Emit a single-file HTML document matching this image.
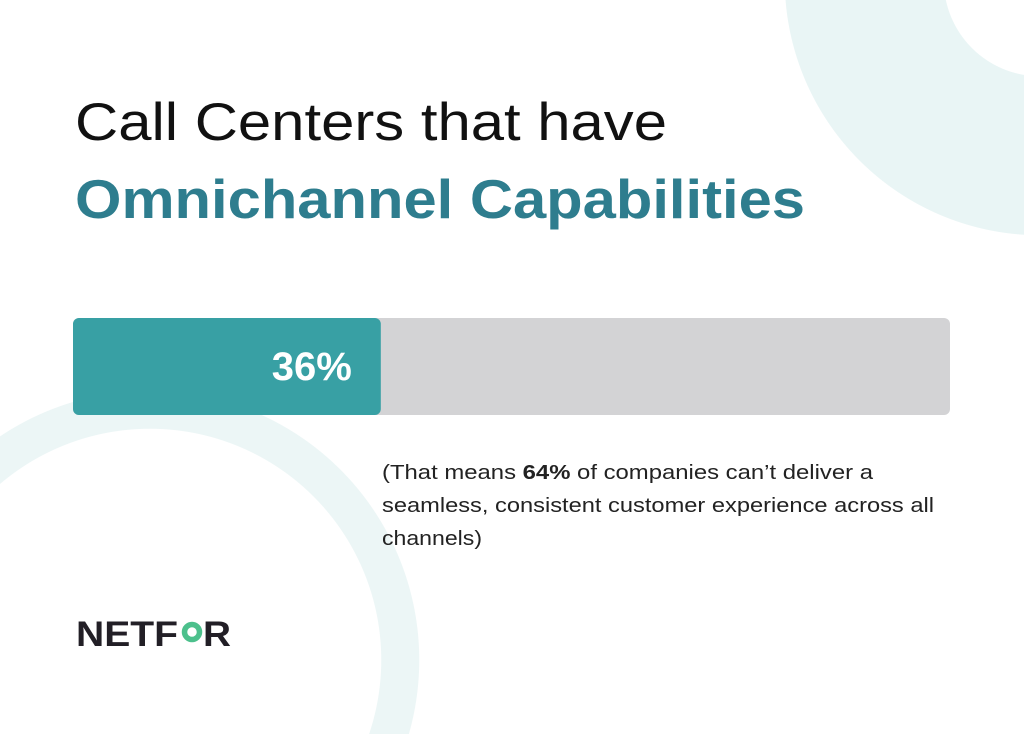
<!DOCTYPE html>
<html><head><meta charset="utf-8"><style>
html,body{margin:0;padding:0;width:1024px;height:734px;overflow:hidden;}
body{background:
  radial-gradient(circle at 1040px -20px, #ffffff 0 96px, #e9f5f5 96.5px 255px, rgba(255,255,255,0) 255.5px),
  radial-gradient(circle at 150px 660px, rgba(255,255,255,0) 0 231px, #ecf6f6 231.5px 269px, rgba(255,255,255,0) 269.5px),
  #ffffff;}
svg{display:block;font-family:"Liberation Sans",sans-serif;overflow:hidden;}
</style></head><body>
<svg id="chart" width="1024" height="734" viewBox="0 0 1024 734">
  <text x="75" y="140" font-size="53" fill="#111" textLength="592" lengthAdjust="spacingAndGlyphs">Call Centers that have</text>
  <text x="75" y="218" font-size="55" font-weight="bold" fill="#2e7d8e" textLength="730" lengthAdjust="spacingAndGlyphs">Omnichannel Capabilities</text>
  <g id="bars"></g>
  <g font-size="20.5" fill="#222">
    <text x="382" y="479" textLength="491" lengthAdjust="spacingAndGlyphs">(That means <tspan font-weight="bold">64%</tspan> of companies can’t deliver a</text>
    <text x="382" y="512" textLength="552" lengthAdjust="spacingAndGlyphs">seamless, consistent customer experience across all</text>
    <text x="382" y="545" textLength="100" lengthAdjust="spacingAndGlyphs">channels)</text>
  </g>
  <g>
    <text x="76" y="646" font-size="35" font-weight="bold" fill="#221f26" textLength="102" lengthAdjust="spacingAndGlyphs">NETF</text>
    <circle cx="192" cy="632" r="7.5" fill="none" stroke="#4cc08c" stroke-width="5.5"/>
    <text x="203" y="646" font-size="35" font-weight="bold" fill="#221f26" textLength="28" lengthAdjust="spacingAndGlyphs">R</text>
  </g>
</svg>
<script>
const categories = ["Omnichannel capable"];
const values = [36];
const valueLabels = ["36%"];
const NS = "http://www.w3.org/2000/svg";
const g = document.getElementById('bars');
const x0 = 73, trackW = 877, y0 = 318, h = 97;
const xScale = v => x0 + v / 100 * 855;
const track = document.createElementNS(NS, 'rect');
track.setAttribute('x', x0); track.setAttribute('y', y0);
track.setAttribute('width', trackW); track.setAttribute('height', h);
track.setAttribute('rx', 6); track.setAttribute('fill', '#d3d3d5');


g.appendChild(track);
values.forEach((v, i) => {
  const r = document.createElementNS(NS, 'rect');
  r.setAttribute('x', x0); r.setAttribute('y', y0);
  r.setAttribute('width', xScale(v) - x0); r.setAttribute('height', h);
  r.setAttribute('rx', 6); r.setAttribute('fill', '#38a0a4');
  
  
  g.appendChild(r);
  const t = document.createElementNS(NS, 'text');
  t.setAttribute('x', xScale(v) - 29); t.setAttribute('y', 380);
  t.setAttribute('text-anchor', 'end'); t.setAttribute('font-size', '40');
  t.setAttribute('font-weight', 'bold'); t.setAttribute('fill', '#fff');
  t.textContent = valueLabels[i];
  
  
  g.appendChild(t);
});
</script>
</body></html>
